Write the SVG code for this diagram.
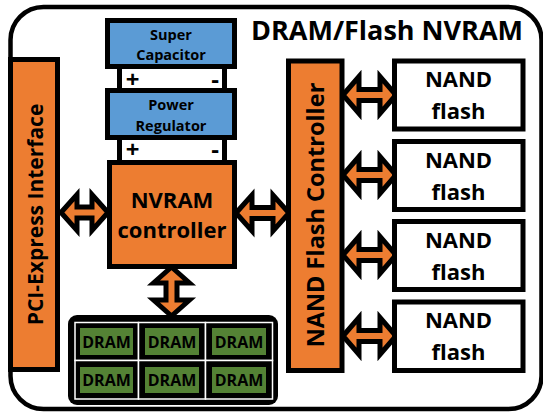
<svg xmlns="http://www.w3.org/2000/svg" width="543" height="412" viewBox="0 0 543 412">
  <style>
    text { font-family: "Open Sans", "Noto Sans", "Liberation Sans", sans-serif; font-weight: 700; fill: #000; text-anchor: middle; }
    .frame { fill: #fff; stroke: #000; stroke-width: 4.5; }
    .orange { fill: #ED7D31; stroke: #000; stroke-width: 5; }
    .blue { fill: #5B9BD5; stroke: #000; stroke-width: 5; }
    .white { fill: #fff; stroke: #000; stroke-width: 5; }
    .arrow { fill: #ED7D31; stroke: #000; stroke-width: 5; stroke-linejoin: miter; }
    .cell { fill: #000; stroke: #fff; stroke-width: 1.5; }
    .chip { fill: #548235; }
    .big { font-size: 22px; }
    .small { font-size: 14.5px; }
    .sign { font-size: 24px; }
    .dram { font-size: 16px; }
  </style>

  <rect width="543" height="412" fill="#fff"/>

  <!-- board outline and title -->
  <rect class="frame" x="10.5" y="7" width="531" height="402" rx="33"/>
  <text x="387" y="40" style="font-size:27px">DRAM/Flash NVRAM</text>

  <!-- double-headed bus arrows -->
  <g id="connectors">
    <path class="arrow" d="M61,212.5 L77,194.5 L77,207 L92,207 L92,194.5 L108,212.5 L92,230.5 L92,218 L77,218 L77,230.5 Z"/>
    <path class="arrow" d="M236,213 L252,195 L252,207.5 L273,207.5 L273,195 L289,213 L273,231 L273,218.5 L252,218.5 L252,231 Z"/>
    <path class="arrow" d="M171.5,267 L189.5,283 L177,283 L177,300 L189.5,300 L171.5,316 L153.5,300 L166,300 L166,283 L153.5,283 Z"/>
    <path class="arrow" d="M343,95 L359,76.5 L359,89.5 L380,89.5 L380,76.5 L396,95 L380,113.5 L380,100.5 L359,100.5 L359,113.5 Z"/>
    <path class="arrow" d="M343,175 L359,156.5 L359,169.5 L380,169.5 L380,156.5 L396,175 L380,193.5 L380,180.5 L359,180.5 L359,193.5 Z"/>
    <path class="arrow" d="M343,255 L359,236.5 L359,249.5 L380,249.5 L380,236.5 L396,255 L380,273.5 L380,260.5 L359,260.5 L359,273.5 Z"/>
    <path class="arrow" d="M343,336 L359,317.5 L359,330.5 L380,330.5 L380,317.5 L396,336 L380,354.5 L380,341.5 L359,341.5 L359,354.5 Z"/>
  </g>

  <!-- host interface -->
  <g id="pci-express">
    <rect class="orange" x="10.5" y="59.5" width="47" height="310"/>
    <text style="font-size:21px" transform="translate(43,214.5) rotate(-90)">PCI-Express Interface</text>
  </g>

  <!-- backup power -->
  <g id="terminals-1">
    <rect class="white" x="119.5" y="64" width="105" height="28"/>
    <text class="sign" x="132.5" y="87.5">+</text>
    <text class="sign" x="215" y="87.5">-</text>
  </g>
  <g id="terminals-2">
    <rect class="white" x="119.5" y="134" width="105" height="30"/>
    <text class="sign" x="132.5" y="157.5">+</text>
    <text class="sign" x="215" y="157.5">-</text>
  </g>
  <g id="super-capacitor">
    <rect class="blue" x="107.5" y="20.5" width="127" height="46"/>
    <text class="small" x="171" y="39.5">Super</text>
    <text class="small" x="171" y="60">Capacitor</text>
  </g>
  <g id="power-regulator">
    <rect class="blue" x="107.5" y="90.5" width="127" height="47"/>
    <text class="small" x="171" y="110">Power</text>
    <text class="small" x="171" y="131">Regulator</text>
  </g>

  <!-- controller -->
  <g id="nvram-controller">
    <rect class="orange" x="109.5" y="162.5" width="125" height="104"/>
    <text class="big" x="172" y="208">NVRAM</text>
    <text class="big" x="172" y="238">controller</text>
  </g>

  <!-- DRAM array -->
  <g id="dram">
    <rect x="68" y="315" width="210" height="90" rx="9" fill="#000"/>
    <rect class="cell" x="75" y="322.5" width="63.5" height="38"/>
    <rect class="cell" x="138.5" y="322.5" width="67" height="38"/>
    <rect class="cell" x="205.5" y="322.5" width="67" height="38"/>
    <rect class="cell" x="75" y="360.5" width="63.5" height="38.5"/>
    <rect class="cell" x="138.5" y="360.5" width="67" height="38.5"/>
    <rect class="cell" x="205.5" y="360.5" width="67" height="38.5"/>
    <rect class="chip" x="80" y="328" width="53" height="27"/>
    <rect class="chip" x="145" y="328" width="54" height="27"/>
    <rect class="chip" x="212" y="328" width="54" height="27"/>
    <rect class="chip" x="80" y="367" width="53" height="26"/>
    <rect class="chip" x="145" y="367" width="54" height="26"/>
    <rect class="chip" x="212" y="367" width="54" height="26"/>
    <text class="dram" x="106.5" y="347.5">DRAM</text>
    <text class="dram" x="172" y="347.5">DRAM</text>
    <text class="dram" x="239" y="347.5">DRAM</text>
    <text class="dram" x="106.5" y="386">DRAM</text>
    <text class="dram" x="172" y="386">DRAM</text>
    <text class="dram" x="239" y="386">DRAM</text>
  </g>

  <!-- flash side -->
  <g id="nand-controller">
    <rect class="orange" x="288.5" y="61" width="53.5" height="309.5"/>
    <text style="font-size:23.5px" transform="translate(323.5,215) rotate(-90)">NAND Flash Controller</text>
  </g>
  <g id="nand-1">
    <rect class="white" x="394.5" y="61" width="128.5" height="68"/>
    <text class="big" x="458.5" y="87">NAND</text>
    <text class="big" x="458.5" y="119">flash</text>
  </g>
  <g id="nand-2">
    <rect class="white" x="394.5" y="141.5" width="128.5" height="68"/>
    <text class="big" x="458.5" y="167.5">NAND</text>
    <text class="big" x="458.5" y="199.5">flash</text>
  </g>
  <g id="nand-3">
    <rect class="white" x="394.5" y="221.5" width="128.5" height="68"/>
    <text class="big" x="458.5" y="247.5">NAND</text>
    <text class="big" x="458.5" y="279.5">flash</text>
  </g>
  <g id="nand-4">
    <rect class="white" x="394.5" y="302" width="128.5" height="68.5"/>
    <text class="big" x="458.5" y="328">NAND</text>
    <text class="big" x="458.5" y="360">flash</text>
  </g>
</svg>
